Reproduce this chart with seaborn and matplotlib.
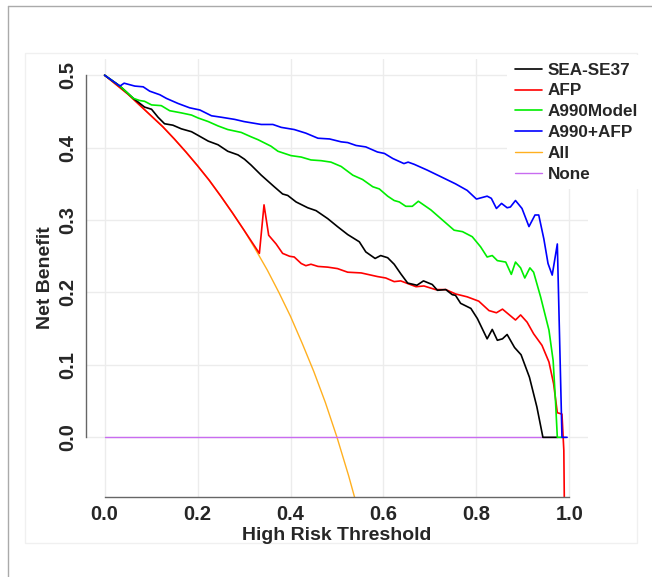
import matplotlib
matplotlib.use("Agg")
import matplotlib.pyplot as plt
import seaborn as sns
import pandas as pd
from matplotlib.lines import Line2D
from matplotlib.patches import Rectangle

# decision curve values
thr_sea = [0.000, 0.033, 0.062, 0.076, 0.086, 0.101, 0.115, 0.129, 0.147, 0.165, 0.187, 0.201,
           0.223, 0.244, 0.265, 0.287, 0.301, 0.315, 0.337, 0.365, 0.383, 0.394, 0.412, 0.437,
           0.455, 0.480, 0.501, 0.523, 0.548, 0.562, 0.582, 0.594, 0.609, 0.623, 0.637, 0.652,
           0.672, 0.686, 0.705, 0.716, 0.734, 0.748, 0.755, 0.766, 0.788, 0.802, 0.823, 0.834,
           0.845, 0.856, 0.866, 0.882, 0.896, 0.914, 0.930, 0.943, 0.974]
nb_sea = [0.500, 0.485, 0.468, 0.461, 0.456, 0.453, 0.442, 0.433, 0.431, 0.426, 0.422, 0.417,
          0.409, 0.404, 0.395, 0.390, 0.384, 0.376, 0.362, 0.346, 0.336, 0.334, 0.325, 0.317,
          0.313, 0.302, 0.291, 0.280, 0.270, 0.256, 0.247, 0.251, 0.248, 0.239, 0.226, 0.213,
          0.210, 0.216, 0.211, 0.203, 0.204, 0.197, 0.196, 0.185, 0.178, 0.164, 0.136, 0.149,
          0.134, 0.136, 0.142, 0.124, 0.114, 0.083, 0.042, 0.000, 0.000]

thr_afp = [0.000, 0.025, 0.050, 0.075, 0.100, 0.125, 0.150, 0.175, 0.200, 0.225, 0.250, 0.275,
           0.300, 0.333, 0.343, 0.353, 0.369, 0.383, 0.398, 0.408, 0.423, 0.433, 0.444, 0.459,
           0.480, 0.501, 0.523, 0.552, 0.566, 0.587, 0.605, 0.623, 0.637, 0.670, 0.687, 0.712,
           0.734, 0.755, 0.780, 0.805, 0.827, 0.843, 0.856, 0.884, 0.895, 0.909, 0.923, 0.941,
           0.956, 0.966, 0.974, 0.984, 0.988, 0.990]
nb_afp = [0.500, 0.487, 0.474, 0.459, 0.444, 0.429, 0.412, 0.394, 0.375, 0.355, 0.333, 0.310,
          0.286, 0.254, 0.321, 0.279, 0.267, 0.254, 0.250, 0.249, 0.240, 0.237, 0.239, 0.236,
          0.235, 0.233, 0.228, 0.227, 0.225, 0.222, 0.220, 0.215, 0.216, 0.208, 0.209, 0.204,
          0.204, 0.198, 0.194, 0.188, 0.175, 0.172, 0.177, 0.162, 0.169, 0.159, 0.143, 0.127,
          0.104, 0.074, 0.034, 0.032, -0.018, -0.150]

thr_a990 = [0.000, 0.033, 0.062, 0.076, 0.086, 0.101, 0.122, 0.140, 0.165, 0.187, 0.201, 0.223,
            0.244, 0.265, 0.294, 0.315, 0.330, 0.358, 0.373, 0.401, 0.423, 0.444, 0.466, 0.487,
            0.509, 0.534, 0.555, 0.577, 0.591, 0.609, 0.623, 0.634, 0.648, 0.662, 0.675, 0.702,
            0.727, 0.752, 0.770, 0.791, 0.809, 0.823, 0.834, 0.845, 0.863, 0.875, 0.884, 0.895,
            0.904, 0.915, 0.923, 0.938, 0.956, 0.965, 0.970, 0.974, 0.984]
nb_a990 = [0.500, 0.485, 0.468, 0.465, 0.464, 0.459, 0.458, 0.451, 0.448, 0.445, 0.441, 0.436,
           0.430, 0.425, 0.421, 0.415, 0.411, 0.402, 0.395, 0.389, 0.387, 0.383, 0.382, 0.380,
           0.374, 0.362, 0.356, 0.346, 0.343, 0.333, 0.327, 0.325, 0.319, 0.319, 0.326, 0.314,
           0.300, 0.286, 0.284, 0.277, 0.263, 0.249, 0.251, 0.244, 0.242, 0.225, 0.242, 0.234,
           0.220, 0.234, 0.228, 0.194, 0.148, 0.106, 0.051, 0.000, 0.000]

thr_combo = [0.000, 0.033, 0.042, 0.065, 0.083, 0.097, 0.119, 0.133, 0.158, 0.183, 0.205, 0.230,
             0.251, 0.280, 0.300, 0.337, 0.362, 0.380, 0.408, 0.433, 0.459, 0.484, 0.509, 0.523,
             0.541, 0.562, 0.587, 0.602, 0.620, 0.644, 0.653, 0.666, 0.694, 0.723, 0.755, 0.780,
             0.800, 0.823, 0.832, 0.843, 0.854, 0.866, 0.873, 0.884, 0.898, 0.913, 0.926, 0.934,
             0.945, 0.954, 0.963, 0.974, 0.984, 0.995]
nb_combo = [0.500, 0.485, 0.489, 0.485, 0.484, 0.478, 0.473, 0.468, 0.461, 0.455, 0.452, 0.444,
            0.442, 0.439, 0.436, 0.432, 0.432, 0.428, 0.425, 0.420, 0.413, 0.412, 0.408, 0.407,
            0.403, 0.401, 0.394, 0.392, 0.385, 0.378, 0.380, 0.377, 0.369, 0.360, 0.350, 0.341,
            0.329, 0.333, 0.330, 0.316, 0.323, 0.317, 0.318, 0.327, 0.316, 0.291, 0.307, 0.307,
            0.274, 0.240, 0.224, 0.267, 0.000, 0.000]

thr_all = [0.000, 0.025, 0.050, 0.075, 0.100, 0.125, 0.150, 0.175, 0.200, 0.225, 0.250, 0.275,
           0.300, 0.325, 0.350, 0.375, 0.400, 0.425, 0.450, 0.475, 0.500, 0.525, 0.550]
nb_all = [0.500, 0.487, 0.474, 0.459, 0.444, 0.429, 0.412, 0.394, 0.375, 0.355, 0.333, 0.310,
          0.286, 0.259, 0.231, 0.200, 0.167, 0.130, 0.091, 0.048, 0.000, -0.053, -0.111]

thr_none = [0.0, 0.99]
nb_none = [0.0, 0.0]

x_ticks = [0.0, 0.2, 0.4, 0.6, 0.8, 1.0]
y_ticks = [0.0, 0.1, 0.2, 0.3, 0.4, 0.5]

sns.set_style("white")
plt.rcParams['font.family'] = ['Liberation Sans', 'DejaVu Sans']
plt.rcParams['font.weight'] = 'bold'

fig = plt.figure(figsize=(6.52, 5.77), dpi=100)

# faint panel behind the plot and the outer frame lines
fig.patches.append(Rectangle((25/652, 1-543/577), 612/652, 490/577, transform=fig.transFigure,
                             facecolor='none', edgecolor='#f0f0f0', lw=1, zorder=-1))
fig.lines.append(Line2D([8/652, 1], [1-6/577, 1-6/577], transform=fig.transFigure, color='#aaaaaa', lw=1))
fig.lines.append(Line2D([8/652, 8/652], [0, 1-6/577], transform=fig.transFigure, color='#aaaaaa', lw=1))

ax = fig.add_axes([86/652, 1-497/577, 502/652, 438/577])
ax.patch.set_alpha(0)

series = [
    ("All", thr_all, nb_all, "#ffb020", 1.0),
    ("None", thr_none, nb_none, "#c86cf0", 1.0),
    ("AFP", thr_afp, nb_afp, "#ff0000", 1.2),
    ("SEA-SE37", thr_sea, nb_sea, "#000000", 1.2),
    ("A990Model", thr_a990, nb_a990, "#00ee00", 1.2),
    ("A990+AFP", thr_combo, nb_combo, "#0000ff", 1.2),
]
handles = {}
for name, xs, ys, col, lw in series:
    df = pd.DataFrame({"thr": xs, "nb": ys})
    sns.lineplot(data=df, x="thr", y="nb", color=col, lw=lw, estimator=None, sort=False, ax=ax)
    handles[name] = Line2D([], [], color=col, lw=lw)

ax.set_xlim(-0.04, 1.04)
ax.set_ylim(-0.0824, 0.5224)
ax.set_xticks(x_ticks)
ax.set_yticks(y_ticks)
ax.set_xticklabels([f"{v:.1f}" for v in x_ticks])
ax.set_yticklabels([f"{v:.1f}" for v in y_ticks], rotation=90, va='center')
ax.grid(True, color='#ececec', lw=1)
ax.set_axisbelow(True)

for s in ['top', 'right']:
    ax.spines[s].set_visible(False)
ax.spines['left'].set_bounds(0, 0.5)
ax.spines['bottom'].set_bounds(0, 1)
for s in ['left', 'bottom']:
    ax.spines[s].set_color('#666666')
    ax.spines[s].set_linewidth(1)
ax.tick_params(axis='both', length=5, width=1, color='#666666', labelsize=14.5, direction='out')
ax.tick_params(axis='x', pad=0.5)
ax.tick_params(axis='y', pad=1)

ax.set_xlabel("High Risk Threshold", fontsize=14, fontweight='bold', labelpad=2.5)
ax.set_ylabel("Net Benefit", fontsize=14, fontweight='bold', labelpad=3)

order = ["SEA-SE37", "AFP", "A990Model", "A990+AFP", "All", "None"]
leg = ax.legend([handles[k] for k in order], order, loc='upper left',
                bbox_to_anchor=(507/652, 1-55/577), bbox_transform=fig.transFigure,
                fontsize=12.3, frameon=True, facecolor='white', edgecolor='none', framealpha=1,
                handlelength=1.6, handletextpad=0.35, labelspacing=0.34, borderpad=0.45,
                borderaxespad=0, fancybox=False)
for t in leg.get_texts():
    t.set_fontweight('bold')

fig.savefig("out.png", dpi=100)
